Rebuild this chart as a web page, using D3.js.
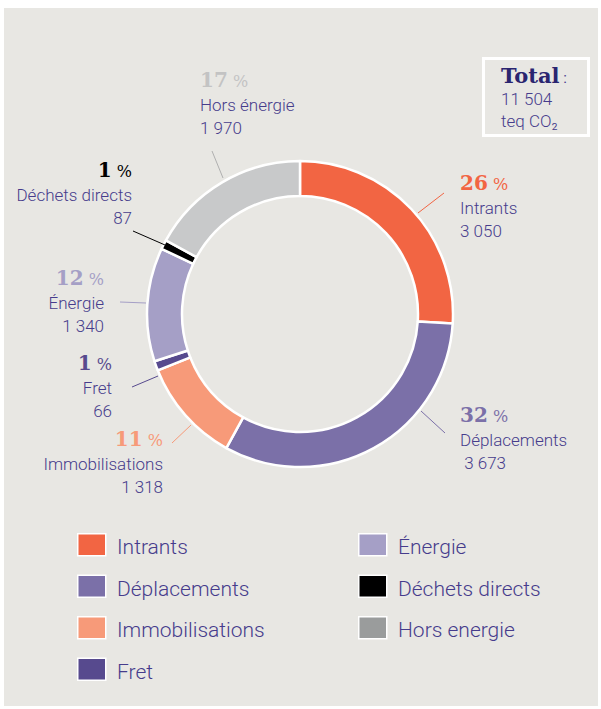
<!DOCTYPE html>
<html>
<head>
<meta charset="utf-8">
<script src="https://cdn.jsdelivr.net/npm/d3@7"></script>
<style>
  body { margin: 0; background: #fff; }
  text { font-family: Roboto, "Noto Sans", sans-serif; }
</style>
</head>
<body>
<div id="vis"></div>
<script>
// data, clockwise from 12 o'clock
var categories = ['Intrants', 'Déplacements', 'Immobilisations', 'Fret', 'Énergie', 'Déchets directs', 'Hors énergie'];
var values = [3050, 3673, 1318, 66, 1340, 87, 1970];
var valueLabels = ['3 050', ' 3 673', '1 318', '66', '1 340', '87', '1 970'];
var percents = [26, 32, 11, 1, 12, 1, 17];
var legendLabels = ['Intrants', 'Déplacements', 'Immobilisations', 'Fret', 'Énergie', 'Déchets directs', 'Hors energie'];
var totalLabel = '11 504';

var sliceColors = ['#f26543', '#7b70a8', '#f79a79', '#574a8e', '#a59fc6', '#000000', '#c8c9ca'];
var legendColors = ['#f26543', '#7b70a8', '#f79a79', '#574a8e', '#a59fc6', '#000000', '#9a9c9c'];
var pctColors = ['#f26543', '#7b70a8', '#f79a79', '#574a8e', '#a59fc6', '#000000', '#c3c3c3'];
var textColor = '#463c8c';

var svgWidth = 601, svgHeight = 709;
var svg = d3.select('#vis').append('svg')
  .attr('width', svgWidth)
  .attr('height', svgHeight);

// panel background
svg.append('rect')
  .attr('x', 4).attr('y', 8)
  .attr('width', 594).attr('height', 698)
  .attr('fill', '#e8e7e3');

// donut (the slices in the picture follow the rounded percentages)
var cx = 300, cy = 314, outerR = 153, innerR = 118;
var pie = d3.pie().sort(null).value(function(d) { return d; });
var arcs = pie(percents);
var arc = d3.arc().innerRadius(innerR).outerRadius(outerR);

var donut = svg.append('g').attr('transform', 'translate(' + cx + ',' + cy + ')');
donut.selectAll('path.slice')
  .data(arcs)
  .enter().append('path')
  .attr('class', 'slice')
  .attr('d', arc)
  .attr('fill', function(d, i) { return sliceColors[i]; })
  .attr('stroke', '#ffffff')
  .attr('stroke-width', 2.5)
  .attr('stroke-linejoin', 'round');

// label placement
var labelPos = [
  {anchor: 'start', x: 460, y: 190, line: [418, 213, 444, 193]},
  {anchor: 'start', x: 460, y: 422, line: [421, 411, 445, 433]},
  {anchor: 'end', x: 163, y: 446, line: [172, 443, 191, 425]},
  {anchor: 'end', x: 112, y: 370, line: [132, 387, 158, 376]},
  {anchor: 'end', x: 104, y: 285, line: [120, 302, 146, 303]},
  {anchor: 'end', x: 132, y: 177, line: [133, 231, 165, 245]},
  {anchor: 'start', x: 200, y: 87, line: [212, 151, 223, 178]}
];

var labels = svg.selectAll('g.label')
  .data(arcs)
  .enter().append('g')
  .attr('class', 'label');

labels.append('line')
  .attr('x1', function(d, i) { return labelPos[i].line[0]; })
  .attr('y1', function(d, i) { return labelPos[i].line[1]; })
  .attr('x2', function(d, i) { return labelPos[i].line[2]; })
  .attr('y2', function(d, i) { return labelPos[i].line[3]; })
  .attr('stroke', function(d, i) { return i == 6 ? '#b0b0b0' : sliceColors[i]; })
  .attr('stroke-width', 1);

var pct = labels.append('text')
  .attr('x', function(d, i) { return labelPos[i].x; })
  .attr('y', function(d, i) { return labelPos[i].y; })
  .attr('text-anchor', function(d, i) { return labelPos[i].anchor; })
  .attr('fill', function(d, i) { return pctColors[i]; });
pct.append('tspan')
  .style('font-family', '"DejaVu Serif", serif')
  .style('font-weight', 'bold')
  .style('font-size', '20px')
  .text(function(d, i) { return percents[i]; });
pct.append('tspan')
  .style('font-family', '"DejaVu Serif", serif')
  .style('font-size', '16px')
  .text(' %');

labels.append('text')
  .attr('x', function(d, i) { return labelPos[i].x; })
  .attr('y', function(d, i) { return labelPos[i].y + 24; })
  .attr('text-anchor', function(d, i) { return labelPos[i].anchor; })
  .attr('fill', textColor)
  .style('font-size', '17px')
  .style('font-weight', 300)
  .text(function(d, i) { return categories[i]; });

labels.append('text')
  .attr('x', function(d, i) { return labelPos[i].x; })
  .attr('y', function(d, i) { return labelPos[i].y + 47; })
  .attr('text-anchor', function(d, i) { return labelPos[i].anchor; })
  .attr('fill', textColor)
  .style('font-size', '17px')
  .style('font-weight', 300)
  .style('white-space', 'pre')
  .text(function(d, i) { return valueLabels[i]; });

// total box
svg.append('rect')
  .attr('x', 483.5).attr('y', 58.5)
  .attr('width', 105).attr('height', 77)
  .attr('fill', 'none')
  .attr('stroke', '#ffffff')
  .attr('stroke-width', 3);

var totalTitle = svg.append('text')
  .attr('x', 501).attr('y', 83)
  .attr('fill', '#2a2570');
totalTitle.append('tspan')
  .style('font-family', '"DejaVu Serif", serif')
  .style('font-weight', 'bold')
  .style('font-size', '21px')
  .text('Total');
totalTitle.append('tspan')
  .style('font-size', '15px')
  .attr('fill', textColor)
  .text(' :');

svg.append('text')
  .attr('x', 501).attr('y', 105)
  .attr('fill', textColor)
  .style('font-size', '17px')
  .style('font-weight', 300)
  .text(totalLabel);
svg.append('text')
  .attr('x', 501).attr('y', 127)
  .attr('fill', textColor)
  .style('font-size', '17px')
  .style('font-weight', 300)
  .text('teq CO₂');

// legend
var legendCols = [77, 358];
var legendRow = 41.5;
var legend = svg.selectAll('g.legend')
  .data(legendLabels)
  .enter().append('g')
  .attr('class', 'legend')
  .attr('transform', function(d, i) {
    var col = i < 4 ? 0 : 1;
    var row = i < 4 ? i : i - 4;
    return 'translate(' + legendCols[col] + ',' + (533 + row * legendRow) + ')';
  });

legend.append('rect')
  .attr('x', 0.75).attr('y', 0.75)
  .attr('width', 28).attr('height', 22)
  .attr('fill', function(d, i) { return legendColors[i]; })
  .attr('stroke', '#ffffff')
  .attr('stroke-width', 1.5);

legend.append('text')
  .attr('x', 40)
  .attr('y', 21)
  .attr('fill', textColor)
  .style('font-size', '21px')
  .style('font-weight', 300)
  .text(function(d) { return d; });
</script>
</body>
</html>
